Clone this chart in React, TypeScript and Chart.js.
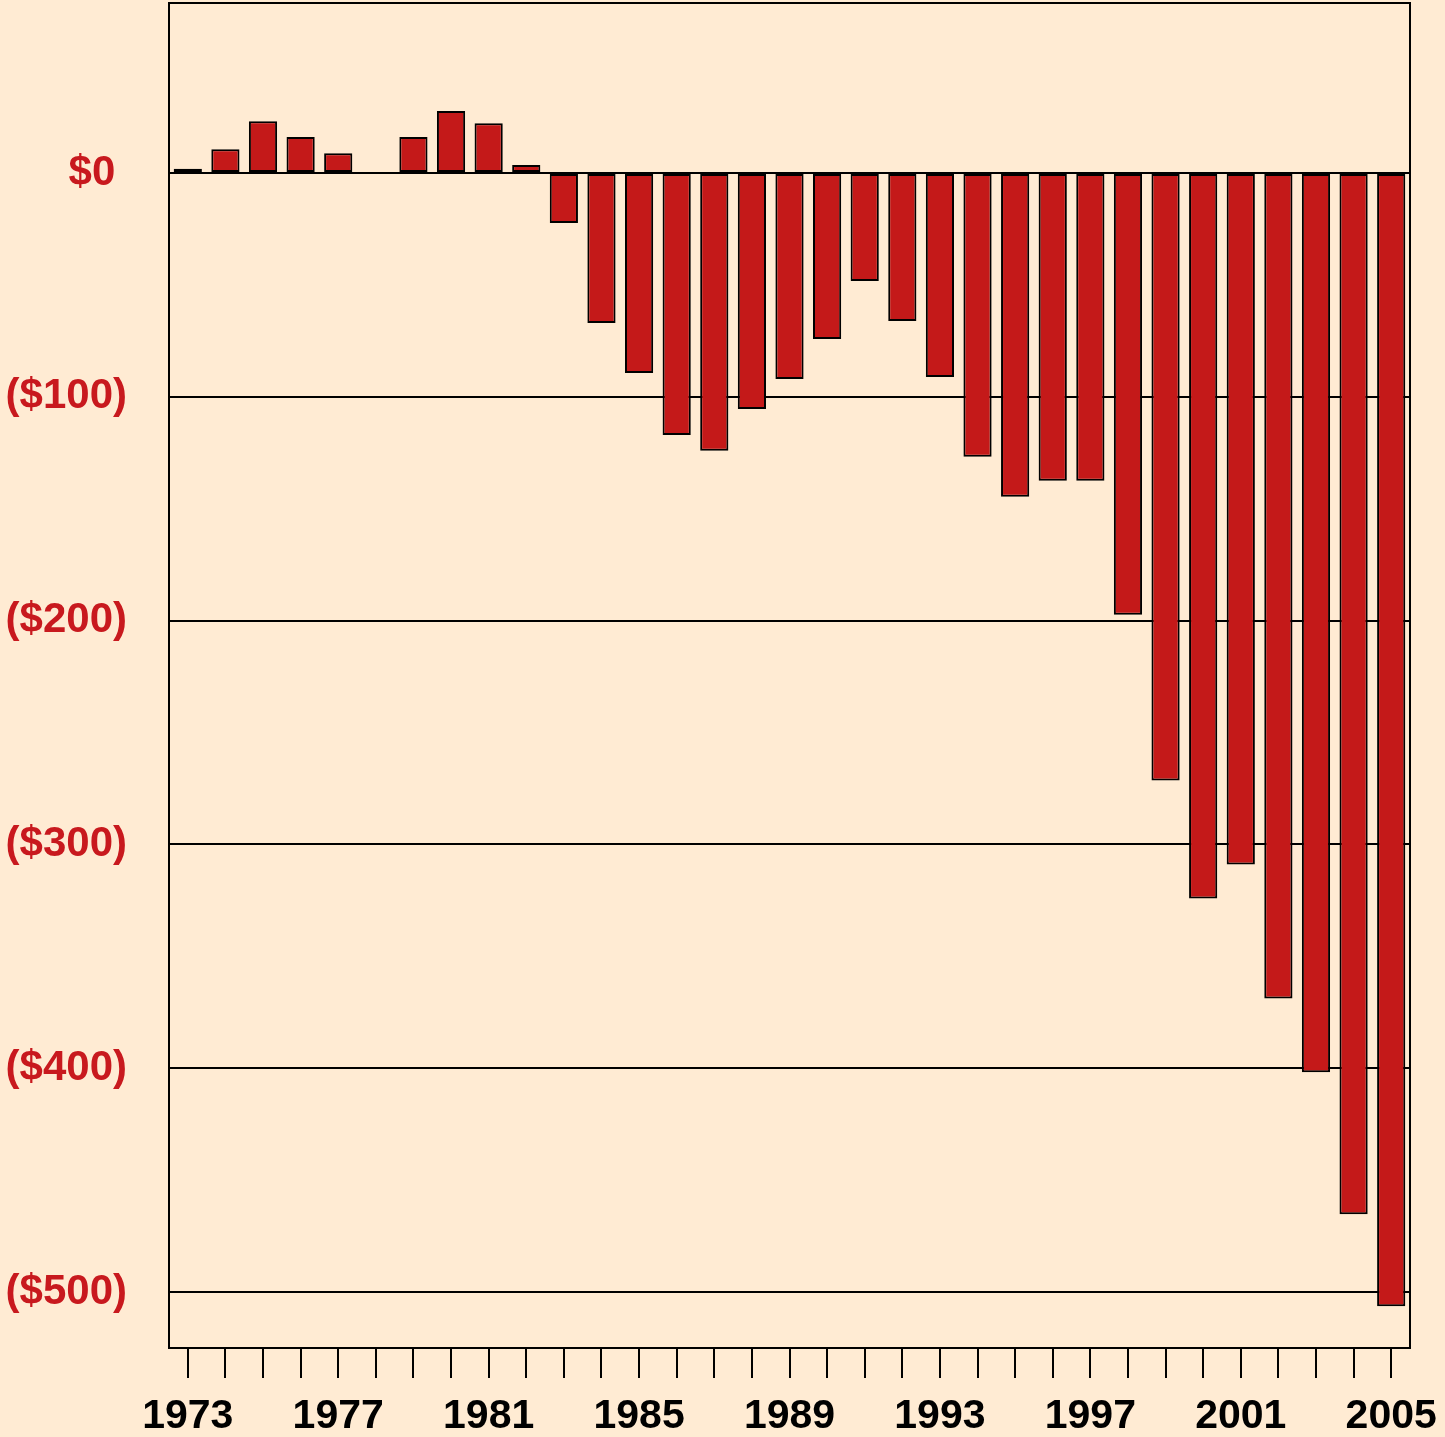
import React, { useEffect, useRef } from "react";
import { Chart, registerables } from "chart.js";

Chart.register(...registerables);

const years: string[] = [
  "1973", "1974", "1975", "1976", "1977", "1978", "1979", "1980", "1981", "1982",
  "1983", "1984", "1985", "1986", "1987", "1988", "1989", "1990", "1991", "1992",
  "1993", "1994", "1995", "1996", "1997", "1998", "1999", "2000", "2001", "2002",
  "2003", "2004", "2005",
];

const balance: number[] = [
  1.9, 10.7, 23.2, 16.1, 8.9, 0.5, 16.1, 27.7, 22.3, 3.6,
  -22.3, -67.0, -89.3, -117.0, -124.1, -105.4, -92.0, -74.1, -48.2, -66.1,
  -91.1, -126.8, -144.6, -137.5, -137.5, -197.3, -271.4, -324.1, -308.9, -368.8,
  -401.8, -465.2, -506.3,
];

const yTicks: number[] = [0, -100, -200, -300, -400, -500];
const Y_MIN = -525;
const Y_MAX = 76;

const BG = "#FFEBD3";
const BAR = "#C41919";
const LABEL_RED = "#C8191E";
const FONT = "'Liberation Sans', Arial, sans-serif";

const fmt = (v: number) => (v < 0 ? `($${Math.abs(v)})` : `$${v} `);

export default function App() {
  const ref = useRef<HTMLCanvasElement | null>(null);

  useEffect(() => {
    document.body.style.background = BG;
    const canvas = ref.current;
    if (!canvas) return;

    const bgPlugin = {
      id: "bg",
      beforeDraw(chart: any) {
        const { ctx, width, height } = chart;
        ctx.save();
        ctx.fillStyle = BG;
        ctx.fillRect(0, 0, width, height);
        ctx.restore();
      },
      afterDraw(chart: any) {
        const { ctx, chartArea } = chart;
        ctx.save();
        ctx.strokeStyle = "#000";
        ctx.lineWidth = 2;
        ctx.strokeRect(
          chartArea.left,
          chartArea.top,
          chartArea.right - chartArea.left,
          chartArea.bottom - chartArea.top
        );
        ctx.restore();
      },
    };

    const chart = new Chart(canvas, {
      type: "bar",
      data: {
        labels: years,
        datasets: [
          {
            data: balance,
            backgroundColor: BAR,
            borderColor: "#000",
            borderWidth: 2,
            borderSkipped: false,
            barPercentage: 0.75,
            categoryPercentage: 1,
          },
        ],
      },
      options: {
        animation: false,
        responsive: false,
        maintainAspectRatio: false,
        devicePixelRatio: 1,
        layout: { padding: { left: 0, right: 35, top: 3, bottom: 0 } },
        plugins: {
          legend: { display: false },
          tooltip: { enabled: false },
          title: { display: false },
        },
        scales: {
          x: {
            offset: true,
            grid: {
              display: true,
              drawOnChartArea: false,
              drawTicks: true,
              tickLength: 30,
              color: "#000",
              lineWidth: 2,
              offset: false,
            },
            border: { display: true, color: "#000", width: 2 },
            ticks: {
              autoSkip: false,
              maxRotation: 0,
              minRotation: 0,
              padding: 14,
              color: "#000",
              font: { family: FONT, size: 41, weight: "bold" },
              callback: (_v: any, i: number) => (i % 4 === 0 ? years[i] : ""),
            },
            afterFit: (scale: any) => {
              scale.height = 89;
              scale.paddingLeft = 0;
              scale.paddingRight = 0;
            },
          },
          y: {
            min: Y_MIN,
            max: Y_MAX,
            afterBuildTicks: (scale: any) => {
              scale.ticks = yTicks.map((v) => ({ value: v }));
            },
            grid: {
              display: true,
              drawTicks: false,
              color: "#000",
              lineWidth: 2,
            },
            border: { display: true, color: "#000", width: 2 },
            ticks: {
              padding: 42,
              color: LABEL_RED,
              font: { family: FONT, size: 42, weight: "bold" },
              callback: (v: any) => fmt(Number(v)),
            },
            afterFit: (scale: any) => {
              scale.width = 169;
              scale.paddingTop = 0;
              scale.paddingBottom = 0;
            },
          },
        },
      },
      plugins: [bgPlugin],
    } as any);

    return () => chart.destroy();
  }, []);

  return (
    <div style={{ position: "fixed", left: 0, top: 0, width: 1445, height: 1437, background: BG }}>
      <canvas ref={ref} width={1445} height={1437} style={{ display: "block", width: 1445, height: 1437 }} />
    </div>
  );
}
